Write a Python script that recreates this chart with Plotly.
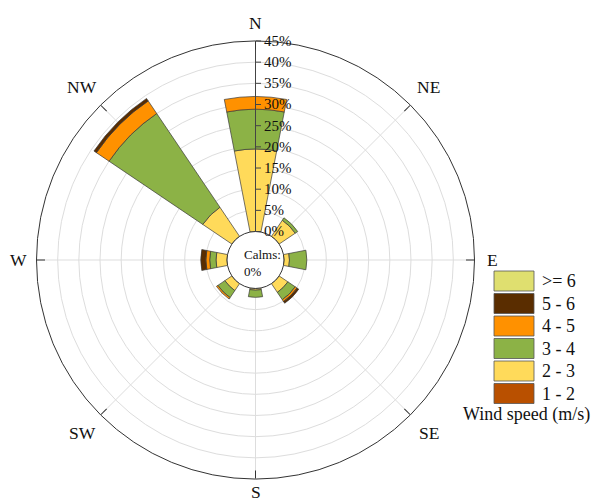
import math
import plotly.graph_objects as go

# Wind directions (compass degrees, clockwise from north)
directions = ["N", "NE", "E", "SE", "S", "SW", "W", "NW"]
dir_angles = [0, 45, 90, 135, 180, 225, 270, 315]

# Wind speed classes (m/s), from the lowest class to the highest
speed_bins = ["1 - 2", "2 - 3", "3 - 4", "4 - 5", "5 - 6", ">= 6"]
bin_colors = ["#B95000", "#FFDA5A", "#8CB246", "#FF9100", "#5A2D00", "#DFDF6F"]

# Frequency (%) of each speed class per direction
freq_1_2 = [0.0, 0.0, 0.0, 0.0, 0.0, 0.0, 0.0, 0.0]
freq_2_3 = [19.5, 4.6, 1.3, 2.5, 0.4, 2.0, 2.6, 8.3]
freq_3_4 = [9.4, 0.7, 4.1, 2.1, 1.7, 2.0, 1.5, 26.7]
freq_4_5 = [3.0, 0.0, 0.0, 0.5, 0.0, 0.4, 0.9, 3.6]
freq_5_6 = [0.0, 0.0, 0.0, 0.5, 0.0, 0.0, 1.2, 0.7]
freq_ge6 = [0.0, 0.0, 0.0, 0.0, 0.0, 0.0, 0.0, 0.0]
freqs = [freq_1_2, freq_2_3, freq_3_4, freq_4_5, freq_5_6, freq_ge6]

calms_pct = 0
radial_ticks = [0, 5, 10, 15, 20, 25, 30, 35, 40, 45]
radial_ticktext = [f"{t}%" for t in radial_ticks]

W, H = 594, 502
SERIF = "Liberation Serif"

# polar area (pixels): centre and outer radius
cx, cy, R = 255.5, 260.0, 219.0
dom_x = [(cx - R) / W, (cx + R) / W]
dom_y = [(H - cy - R) / H, (H - cy + R) / H]

fig = go.Figure()
for name, col, vals in zip(speed_bins, bin_colors, freqs):
    fig.add_trace(go.Barpolar(
        r=vals,
        theta=dir_angles,
        width=[22] * len(dir_angles),
        name=name,
        marker=dict(color=col, line=dict(color="#3a3a3a", width=0.7)),
        showlegend=False,
    ))

fig.update_layout(
    width=W, height=H, autosize=False,
    margin=dict(l=0, r=0, t=0, b=0),
    paper_bgcolor="white",
    font=dict(family=SERIF, color="#111"),
    polar=dict(
        domain=dict(x=dom_x, y=dom_y),
        hole=0.13,
        bgcolor="white",
        barmode="stack",
        radialaxis=dict(
            range=[0, 45],
            tickvals=radial_ticks,
            ticktext=radial_ticktext,
            angle=90,
            side="clockwise",
            showline=True, linecolor="#444", linewidth=1,
            ticks="outside", ticklen=5, tickcolor="#444",
            gridcolor="#dddddd", gridwidth=1,
            tickfont=dict(family=SERIF, size=15, color="#111"),
            tickangle=90,
        ),
        angularaxis=dict(
            rotation=90, direction="clockwise",
            tickmode="array",
            tickvals=dir_angles, ticktext=directions,
            showticklabels=False,
            showline=True, linecolor="#333", linewidth=1,
            ticks="inside", ticklen=8, tickcolor="#333",
            gridcolor="#dddddd", gridwidth=1,
        ),
    ),
)

# Compass labels just outside the outer ring
for name, ang in zip(directions, dir_angles):
    dist = R + (26 if ang % 90 else 18)
    px = cx + dist * math.sin(math.radians(ang))
    py = cy - dist * math.cos(math.radians(ang))
    py = min(py, H - 10)
    fig.add_annotation(
        x=px / W, y=(H - py) / H, xref="paper", yref="paper",
        text=name, showarrow=False, xanchor="center", yanchor="middle",
        font=dict(family=SERIF, size=17.5, color="#111"),
    )

# Calms note in the centre hole
fig.add_annotation(
    x=(cx - 14) / W, y=(H - cy - 3) / H, xref="paper", yref="paper",
    text=f"Calms:<br>{calms_pct}%", showarrow=False,
    xanchor="left", yanchor="middle", align="left",
    font=dict(family=SERIF, size=13, color="#111"),
)

# Legend: colour boxes, highest speed class on top
box_x0, box_x1 = 494, 534
row_top, row_pitch, box_h = 271, 22.5, 20
for i, (name, col) in enumerate(zip(speed_bins[::-1], bin_colors[::-1])):
    top = row_top + i * row_pitch
    fig.add_shape(
        type="rect", xref="paper", yref="paper",
        x0=box_x0 / W, x1=box_x1 / W,
        y0=(H - top - box_h) / H, y1=(H - top) / H,
        fillcolor=col, line=dict(color="#555", width=0.8),
    )
    fig.add_annotation(
        x=(box_x1 + 6) / W, y=(H - top - box_h / 2) / H,
        xref="paper", yref="paper", text=name, showarrow=False,
        xanchor="left", yanchor="middle",
        font=dict(family=SERIF, size=18, color="#111"),
    )
fig.add_annotation(
    x=461 / W, y=(H - 415) / H, xref="paper", yref="paper",
    text="Wind speed (m/s)", showarrow=False,
    xanchor="left", yanchor="middle",
    font=dict(family=SERIF, size=18, color="#111"),
)

fig.write_html("out.html")
